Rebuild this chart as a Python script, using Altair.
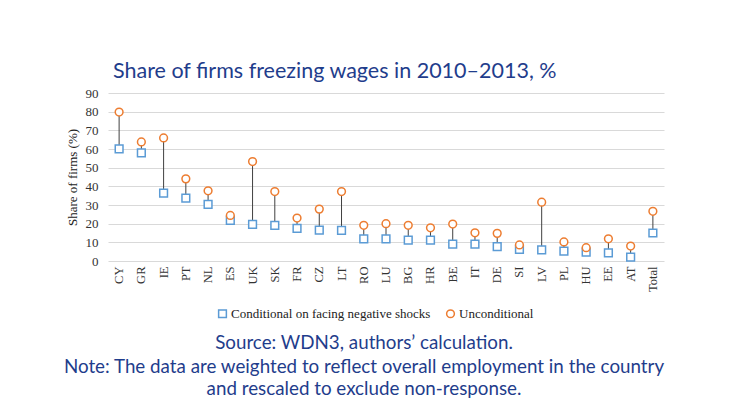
import altair as alt
import pandas as pd

countries = ["CY", "GR", "IE", "PT", "NL", "ES", "UK", "SK", "FR", "CZ", "LT", "RO", "LU",
             "BG", "HR", "BE", "IT", "DE", "SI", "LV", "PL", "HU", "EE", "AT", "Total"]
conditional = [60.1, 57.9, 36.4, 33.7, 30.3, 21.7, 19.6, 19.1, 17.5, 16.6, 16.4, 11.8, 11.8,
               11.2, 11.2, 9.1, 9.1, 7.7, 6.2, 5.9, 5.3, 4.8, 4.3, 2.1, 15.0]
unconditional = [79.8, 63.8, 65.9, 44.0, 37.6, 24.4, 53.3, 37.2, 23.0, 27.8, 37.2, 19.1, 20.0,
                 19.1, 17.8, 19.8, 15.1, 14.8, 8.6, 31.5, 10.2, 7.1, 11.9, 8.0, 26.6]
series_names = ["Conditional on facing negative shocks", "Unconditional"]
y_ticks = [0, 10, 20, 30, 40, 50, 60, 70, 80, 90]

wide = pd.DataFrame({"country": countries, "cond": conditional, "uncond": unconditional})
long = pd.concat([
    pd.DataFrame({"country": countries, "series": series_names[0], "value": conditional}),
    pd.DataFrame({"country": countries, "series": series_names[1], "value": unconditional}),
])

serif = "Liberation Serif"
blue_text = "#1F3D8C"

x_enc = alt.X("country:N", sort=countries, title=None,
              scale=alt.Scale(paddingInner=0, paddingOuter=0),
              axis=alt.Axis(labelAngle=270, labelFont=serif, labelFontSize=12.5,
                            labelColor="#333333", ticks=False, domain=False, labelPadding=5))

y_scale = alt.Scale(domain=[0, 90], nice=False)
y_axis = alt.Axis(values=y_ticks, labelFont=serif, labelFontSize=13,
                  labelColor="#333333", titleFont=serif, titleFontSize=13,
                  titleFontWeight="normal", titleColor="#222222",
                  ticks=False, domain=False, gridColor="#D9D9D9",
                  labelPadding=10, titlePadding=6, labelOverlap=False)

rules = alt.Chart(wide).mark_rule(color="#404040", strokeWidth=1).encode(
    x=x_enc,
    y=alt.Y("cond:Q", title="Share of firms (%)", scale=y_scale, axis=y_axis),
    y2="uncond:Q",
)

legend_cfg = dict(title=None, orient="none", direction="horizontal",
                  legendX=108, legendY=214, labelFont=serif,
                  labelFontSize=13, labelColor="#222222", labelLimit=400,
                  symbolFillColor="white", symbolStrokeWidth=1.5,
                  symbolSize=60, columnPadding=12, labelOffset=2)

points = alt.Chart(long).mark_point(fill="white", filled=False, strokeWidth=1.5, size=60, opacity=1).encode(
    x=x_enc,
    y=alt.Y("value:Q", title="Share of firms (%)", scale=y_scale, axis=y_axis),
    stroke=alt.Stroke("series:N", sort=series_names,
                      scale=alt.Scale(domain=series_names, range=["#5B9BD5", "#ED7D31"]),
                      legend=alt.Legend(**legend_cfg)),
    shape=alt.Shape("series:N", sort=series_names,
                    scale=alt.Scale(domain=series_names, range=["square", "circle"]),
                    legend=alt.Legend(**legend_cfg)),
)

notes = pd.DataFrame({
    "line": ["Source: WDN3, authors\u2019 calculation.",
             "Note: The data are weighted to reflect overall employment in the country",
             "and rescaled to exclude non-response."],
    "ypos": [250, 274, 296],
})
note_text = alt.Chart(notes).mark_text(font="Lato", fontSize=18.8, color=blue_text,
                                       align="center", baseline="middle").encode(
    text="line:N",
    x=alt.value(256),
    y=alt.Y("ypos:Q", scale=None),
)

chart = alt.layer(rules, points, note_text).properties(
    width=556, height=168,
    title=alt.TitleParams("Share of firms freezing wages in 2010\u20132013, %",
                          font="Lato", fontSize=21.5, fontWeight="normal",
                          color=blue_text, anchor="start", frame="group", dx=5, offset=5),
    autosize=alt.AutoSizeParams(type="none"),
    padding={"left": 100, "top": 85, "right": 58, "bottom": 141},
).configure_view(stroke=None)

chart.save("out.html", embed_options={"renderer": "svg", "actions": False})
